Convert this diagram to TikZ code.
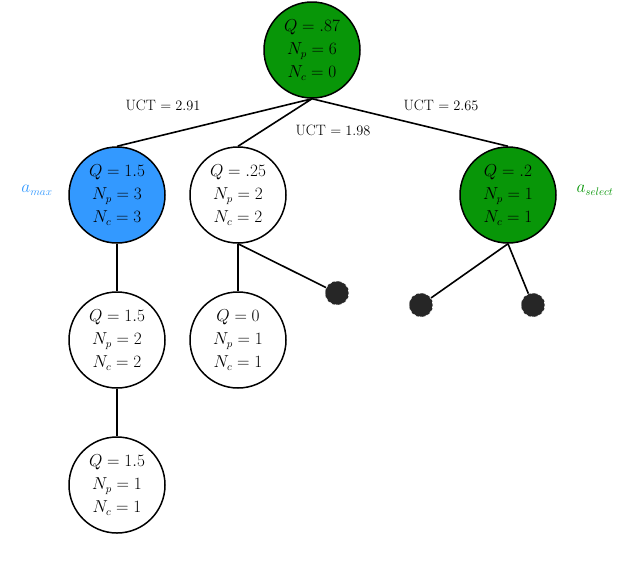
\documentclass[tikz,border=0pt]{standalone}
\begin{document}
\begin{tikzpicture}[x=1pt,y=-1pt,
  st/.style={circle,draw,line width=1.5pt,minimum size=96pt,inner sep=0pt,align=center,font=\fontsize{16}{23}\selectfont},
  leaf/.style={circle,fill=black!85,draw=white,dashed,line width=0.6pt,minimum size=24pt,inner sep=0pt},
  ed/.style={line width=1.6pt},
  lab/.style={font=\fontsize{15}{18}\selectfont}]
\definecolor{gr}{RGB}{8,150,8}
\definecolor{bl}{RGB}{51,153,255}
\useasboundingbox (0,0) rectangle (620,574);
\node[st,fill=gr] (r) at (312,50) {$Q=.87$\\$N_p=6$\\$N_c=0$};
\node[st,fill=bl] (a) at (117,195) {$Q=1.5$\\$N_p=3$\\$N_c=3$};
\node[st] (b) at (238,195) {$Q=.25$\\$N_p=2$\\$N_c=2$};
\node[st,fill=gr] (c) at (508,195) {$Q=.2$\\$N_p=1$\\$N_c=1$};
\node[st] (a1) at (117,340) {$Q=1.5$\\$N_p=2$\\$N_c=2$};
\node[st] (b1) at (238,340) {$Q=0$\\$N_p=1$\\$N_c=1$};
\node[st] (a2) at (117,485) {$Q=1.5$\\$N_p=1$\\$N_c=1$};
\node[leaf] (l1) at (337,293) {};
\node[leaf] (l2) at (421,305) {};
\node[leaf] (l3) at (533,305) {};
\draw[ed] (r.south) -- (a.north) (r.south) -- (b.north) (r.south) -- (c.north);
\draw[ed] (a) -- (a1) (a1) -- (a2) (b) -- (b1);
\draw[ed] (b.south) -- (l1) (c.south) -- (l2) (c.south) -- (l3);
\node[lab] (u1) at (163,105) {UCT $=2.91$};
\node[lab] (u2) at (333,130) {UCT $=1.98$};
\node[lab] (u3) at (441,105) {UCT $=2.65$};
\node[text=bl,font=\fontsize{16}{18}\selectfont] (am) at (37,190) {$a_{max}$};
\node[text=gr,font=\fontsize{16}{18}\selectfont] (as) at (595,190) {$a_{select}$};
\end{tikzpicture}
\end{document}
